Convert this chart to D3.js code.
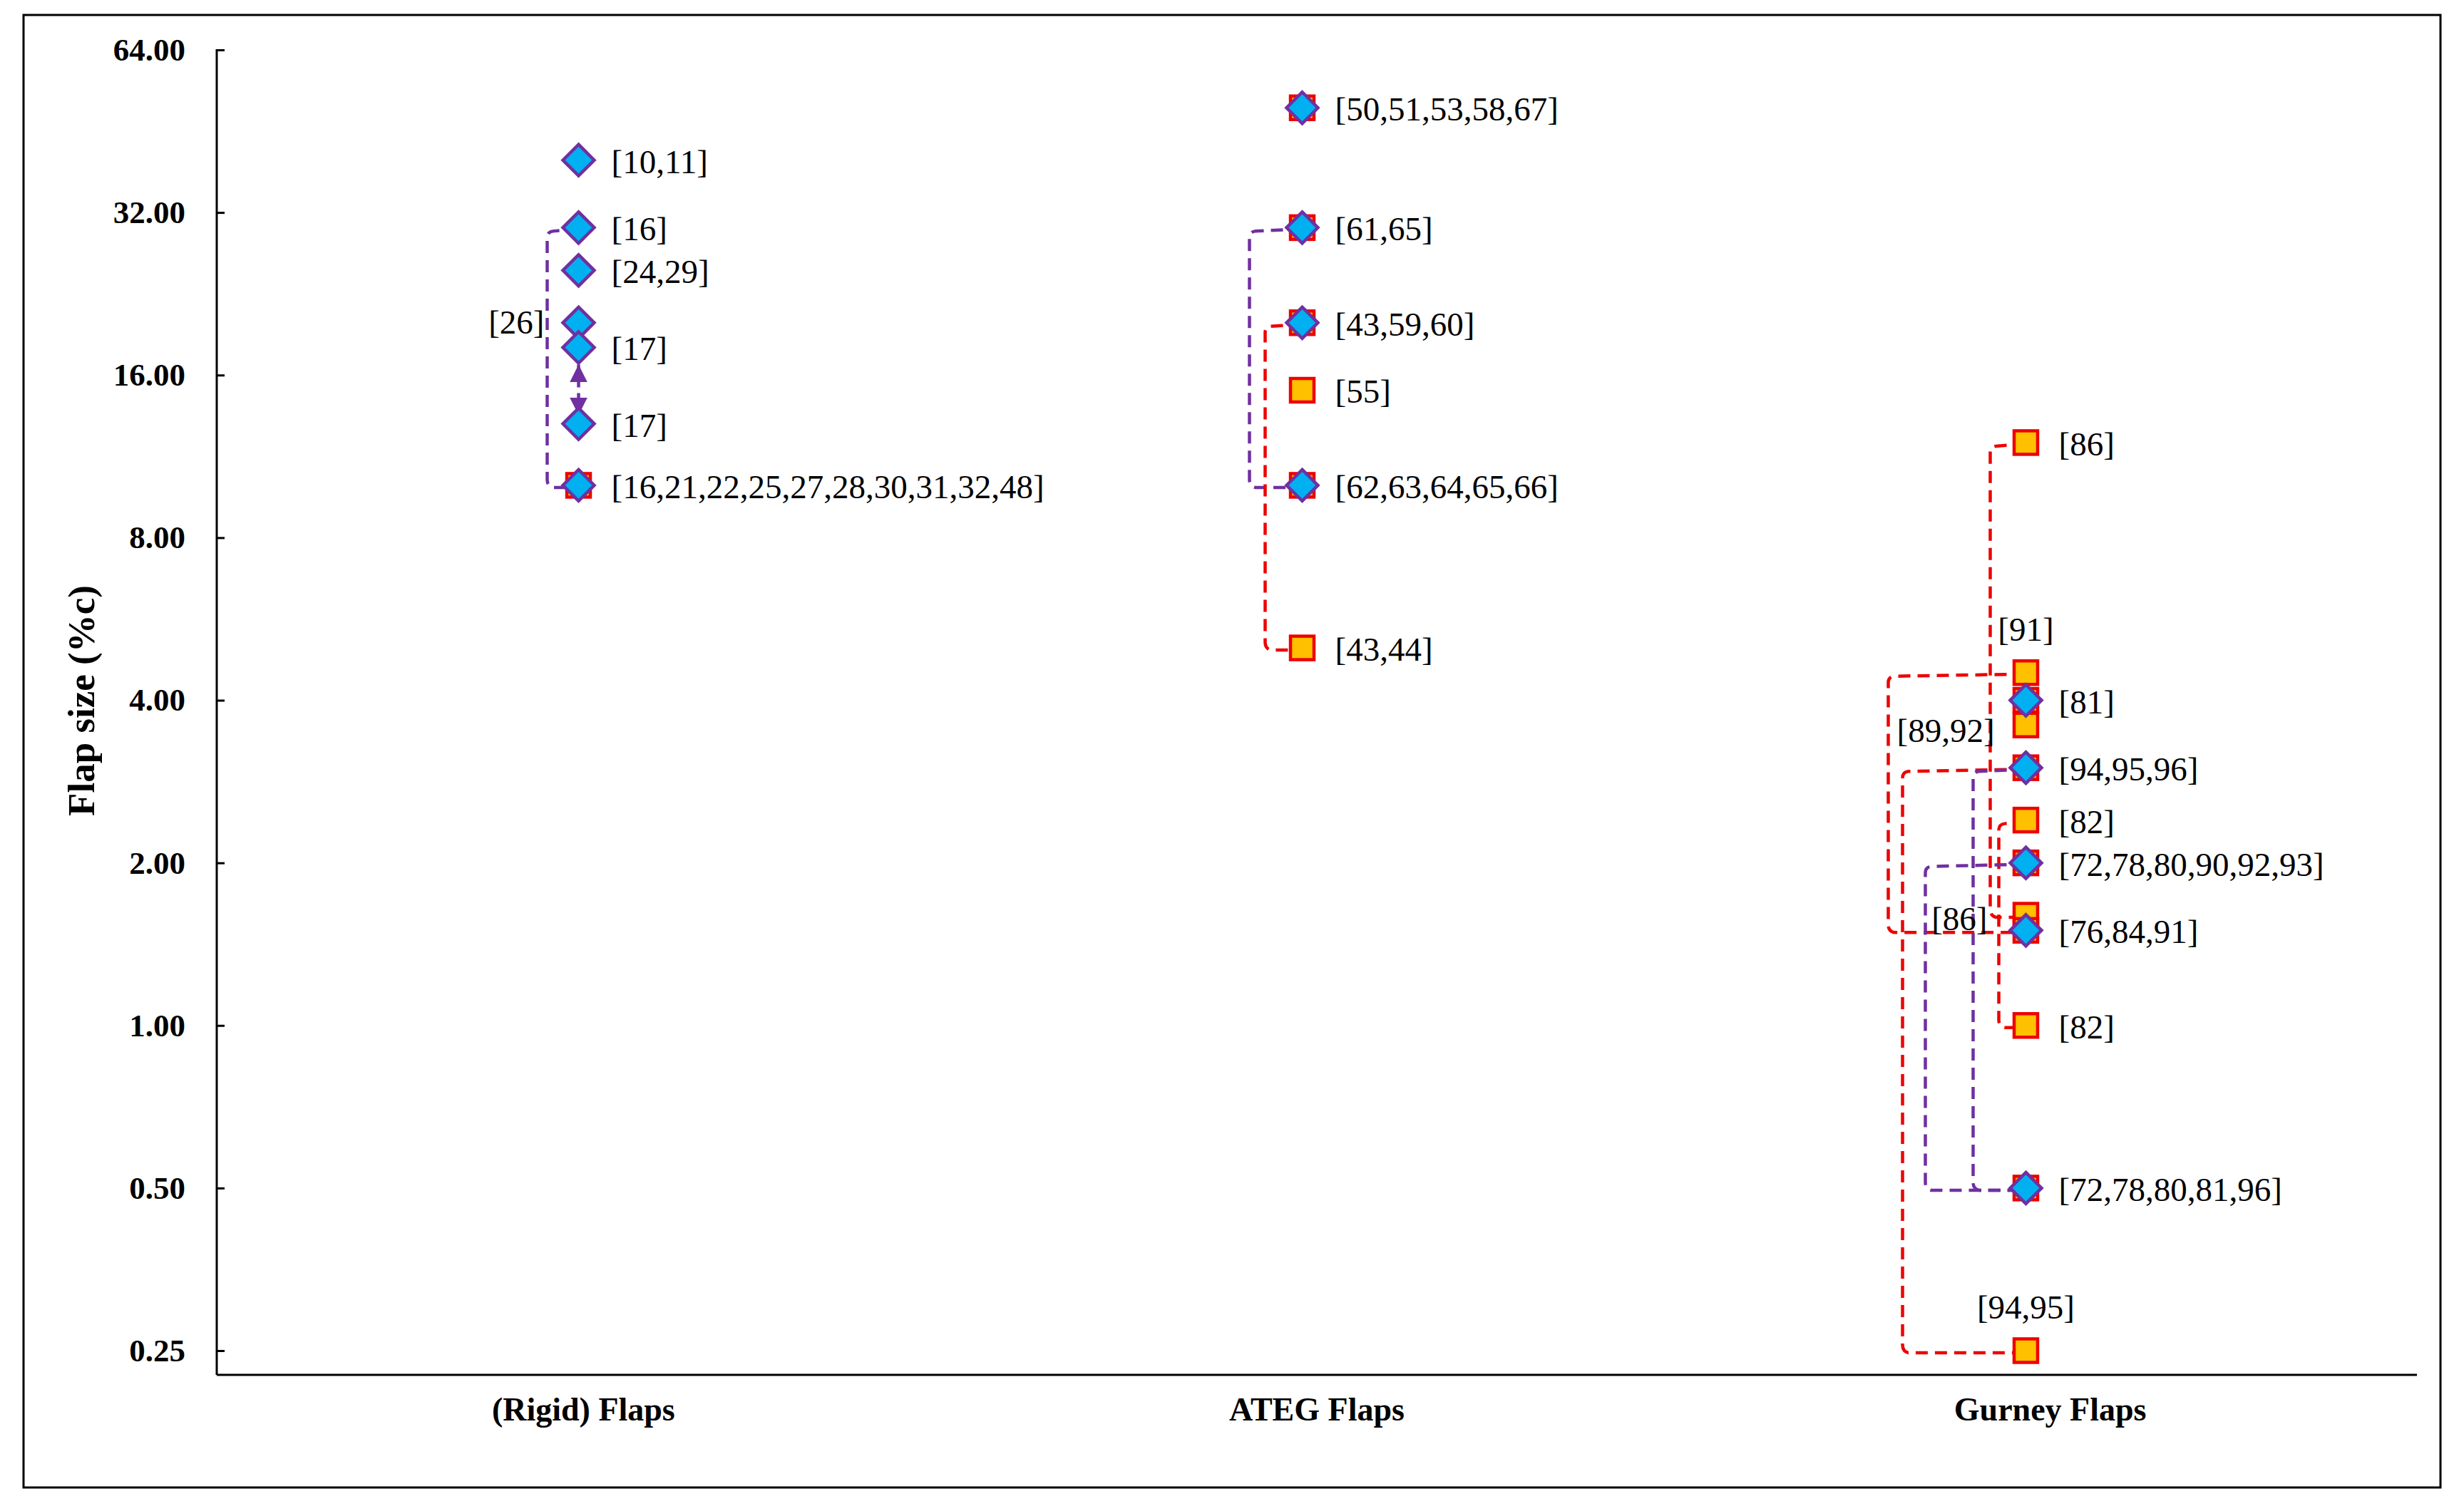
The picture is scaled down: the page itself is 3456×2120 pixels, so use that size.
<!DOCTYPE html>
<html>
<head>
<meta charset="utf-8">
<script src="https://cdn.jsdelivr.net/npm/d3@7"></script>
<style>
  body { margin: 0; background: #fff; }
  text { font-family: "Liberation Serif", "Times New Roman", serif; }
</style>
</head>
<body>
<div id="chart"></div>
<script>
// categories on the x axis and log2 ticks on y
var categories = ["(Rigid) Flaps", "ATEG Flaps", "Gurney Flaps"];
var yTicks = [0.25, 0.5, 1, 2, 4, 8, 16, 32, 64];

// blue diamonds
var diamondCat = [1, 1, 1, 1, 1, 1, 1, 2, 2, 2, 2, 3, 3, 3, 3, 3];
var diamondVal = [40, 30, 25, 20, 18, 13, 10, 50, 30, 20, 10, 4, 3, 2, 1.5, 0.5];

// orange squares
var squareCat = [1, 2, 2, 2, 2, 2, 2, 3, 3, 3, 3, 3, 3, 3, 3, 3, 3, 3, 3];
var squareVal = [10, 50, 30, 20, 15, 10, 5, 12, 4.5, 4, 3.6, 3, 2.4, 2, 1.6, 1.5, 1, 0.5, 0.25];

// reference labels next to the points
var labelText = ["[10,11]", "[16]", "[24,29]", "[17]", "[17]", "[16,21,22,25,27,28,30,31,32,48]",
  "[50,51,53,58,67]", "[61,65]", "[43,59,60]", "[55]", "[62,63,64,65,66]", "[43,44]",
  "[86]", "[91]", "[81]", "[94,95,96]", "[82]", "[72,78,80,90,92,93]", "[76,84,91]", "[82]",
  "[72,78,80,81,96]", "[94,95]"];
var labelCat = [1, 1, 1, 1, 1, 1, 2, 2, 2, 2, 2, 2, 3, 3, 3, 3, 3, 3, 3, 3, 3, 3];
var labelVal = [40, 30, 25, 18, 13, 10, 50, 30, 20, 15, 10, 5, 12, 4.5, 4, 3, 2.4, 2, 1.5, 1, 0.5, 0.25];

// dashed range brackets (from value to value), series sets the colour
var bracketCat = [1, 2, 2, 3, 3, 3, 3, 3, 3];
var bracketFrom = [30, 30, 20, 12, 2.4, 4.5, 3, 3, 2];
var bracketTo = [10, 10, 5, 1.6, 1, 1.5, 0.25, 0.5, 0.5];
var bracketSeries = ["diamond", "diamond", "square", "square", "square", "square", "square", "diamond", "diamond"];
var bracketText = ["[26]", "", "", "[86]", "", "[89,92]", "", "", ""];
var bracketTextVal = [20, null, null, 1.57, null, 3.5, null, null, null];

// double arrow between the two [17] points
var arrowCat = [1];
var arrowFrom = [18];
var arrowTo = [13];

// ---- layout ----
var W = 3456, H = 2120;
var plotLeft = 304, plotRight = 3390, plotTop = 70, bottomTick = 1895, axisY = 1929;
var bracketGap = [44, 74, 52, 50, 38, 193, 173, 74, 141];
var bracketTextSide = ["left", "", "", "left", "", "right", "", "", ""];
var aboveLabels = ["[91]", "[94,95]"];

var colors = { diamondFill: "#00B0F0", diamondStroke: "#7030A0", squareFill: "#FFC000", squareStroke: "#EE0000" };

var svg = d3.select("#chart").append("svg")
  .attr("width", W).attr("height", H);

svg.append("rect")
  .attr("x", 33).attr("y", 21).attr("width", 3390).attr("height", 2066)
  .attr("fill", "none").attr("stroke", "#000").attr("stroke-width", 3);

var y = d3.scaleLog().base(2).domain([0.25, 64]).range([bottomTick, plotTop]);
var xBand = d3.scaleBand().domain(categories).range([plotLeft, plotRight]);
var x = d3.scaleLinear().domain([0.5, 3.5]).range([plotLeft, 3349]);

// y axis
var yAxis = d3.axisLeft(y).tickValues(yTicks).tickFormat(d3.format(".2f"))
  .tickSizeInner(-11).tickSizeOuter(0).tickPadding(44);
var gy = svg.append("g").attr("transform", "translate(" + plotLeft + ",0)").call(yAxis);
gy.select(".domain").remove();
gy.selectAll(".tick line").attr("stroke", "#000").attr("stroke-width", 3);
gy.selectAll(".tick text").attr("font-size", 45).attr("font-weight", "bold")
  .attr("font-family", "Liberation Serif, Times New Roman, serif").attr("fill", "#000");
svg.append("line").attr("x1", plotLeft).attr("x2", plotLeft).attr("y1", plotTop - 1).attr("y2", axisY)
  .attr("stroke", "#000").attr("stroke-width", 3);

// x axis
var xAxis = d3.axisBottom(xBand).tickSize(0).tickPadding(31);
var gx = svg.append("g").attr("transform", "translate(0," + axisY + ")").call(xAxis);
gx.select(".domain").remove();
gx.selectAll(".tick text").attr("font-size", 46).attr("font-weight", "bold")
  .attr("font-family", "Liberation Serif, Times New Roman, serif").attr("fill", "#000");
svg.append("line").attr("x1", plotLeft).attr("x2", plotRight).attr("y1", axisY).attr("y2", axisY)
  .attr("stroke", "#000").attr("stroke-width", 3);

svg.append("text")
  .attr("transform", "translate(132,983) rotate(-90)")
  .attr("text-anchor", "middle").attr("font-size", 53).attr("font-weight", "bold")
  .text("Flap size (%c)");

// brackets
var brackets = bracketCat.map(function(c, i) {
  return { c: c, from: bracketFrom[i], to: bracketTo[i], s: bracketSeries[i], t: bracketText[i], tv: bracketTextVal[i], gap: bracketGap[i], side: bracketTextSide[i] };
});

function bracketPath(d) {
  var cx = x(d.c), vx = cx - d.gap, y1 = y(d.from), y2 = y(d.to), r = 8;
  return "M" + cx + "," + (y1 + 2) +
    "L" + (vx + r) + "," + (y1 + 5) +
    "Q" + vx + "," + (y1 + 6) + " " + vx + "," + (y1 + 6 + r) +
    "L" + vx + "," + (y2 - r) +
    "Q" + vx + "," + (y2 + 1) + " " + (vx + r) + "," + (y2 + 3) +
    "L" + cx + "," + (y2 + 3);
}

svg.append("g").selectAll("path").data(brackets).enter().append("path")
  .attr("d", bracketPath)
  .attr("fill", "none")
  .attr("stroke", function(d) { return d.s === "square" ? colors.squareStroke : colors.diamondStroke; })
  .attr("stroke-width", 4.5)
  .attr("stroke-dasharray", "17,10");

// arrow
svg.append("defs").append("marker")
  .attr("id", "tri").attr("viewBox", "0 0 10 10").attr("refX", 10).attr("refY", 5)
  .attr("markerWidth", 5.5).attr("markerHeight", 5.5).attr("markerUnits", "strokeWidth")
  .attr("orient", "auto-start-reverse")
  .append("path").attr("d", "M0,0L10,5L0,10Z").attr("fill", colors.diamondStroke);

var arrows = arrowCat.map(function(c, i) { return { c: c, from: arrowFrom[i], to: arrowTo[i] }; });
svg.append("g").selectAll("line").data(arrows).enter().append("line")
  .attr("x1", function(d) { return x(d.c); })
  .attr("x2", function(d) { return x(d.c); })
  .attr("y1", function(d) { return y(d.from) + 24; })
  .attr("y2", function(d) { return y(d.to) - 12; })
  .attr("stroke", colors.diamondStroke).attr("stroke-width", 4.5)
  .attr("stroke-dasharray", "12,8")
  .attr("marker-start", "url(#tri)").attr("marker-end", "url(#tri)");

// squares
var sq = 33;
svg.append("g").selectAll("rect").data(squareVal).enter().append("rect")
  .attr("x", function(d, i) { return x(squareCat[i]) - sq / 2; })
  .attr("y", function(d) { return y(d) - sq / 2; })
  .attr("width", sq).attr("height", sq)
  .attr("fill", colors.squareFill).attr("stroke", colors.squareStroke).attr("stroke-width", 4.5);

// diamonds
var r = 22;
svg.append("g").selectAll("path").data(diamondVal).enter().append("path")
  .attr("transform", function(d, i) { return "translate(" + x(diamondCat[i]) + "," + y(d) + ")"; })
  .attr("d", "M0," + (-r) + "L" + r + ",0L0," + r + "L" + (-r) + ",0Z")
  .attr("fill", colors.diamondFill).attr("stroke", colors.diamondStroke).attr("stroke-width", 4.5)
  .attr("stroke-linejoin", "miter");

// point labels
svg.append("g").selectAll("text").data(labelText).enter().append("text")
  .attr("font-size", 47)
  .attr("text-anchor", function(d) { return aboveLabels.indexOf(d) >= 0 ? "middle" : "start"; })
  .attr("x", function(d, i) { return aboveLabels.indexOf(d) >= 0 ? x(labelCat[i]) : x(labelCat[i]) + 46; })
  .attr("y", function(d, i) { return aboveLabels.indexOf(d) >= 0 ? y(labelVal[i]) - 45 : y(labelVal[i]) + 18; })
  .text(function(d) { return d; });

// bracket labels
svg.append("g").selectAll("text").data(brackets.filter(function(d) { return d.t; })).enter().append("text")
  .attr("font-size", 47)
  .attr("text-anchor", function(d) { return d.side === "left" ? "end" : "start"; })
  .attr("x", function(d) { return d.side === "left" ? x(d.c) - d.gap - 4 : x(d.c) - d.gap + 12; })
  .attr("y", function(d) { return y(d.tv) + 15; })
  .text(function(d) { return d.t; });
</script>
</body>
</html>
